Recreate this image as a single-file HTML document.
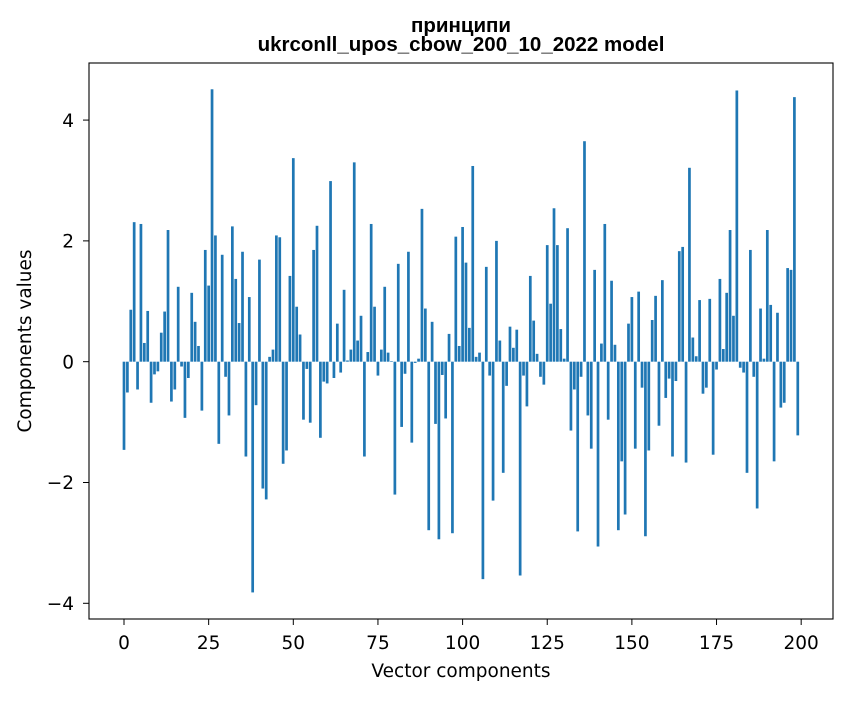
<!DOCTYPE html>
<html><head><meta charset="utf-8"><style>
body{margin:0;background:#fff;}
svg text{font-family:"DejaVu Sans","Liberation Sans",sans-serif;fill:#000;}
svg text.title{font-family:"Liberation Sans","DejaVu Sans",sans-serif;}
</style></head><body>
<svg id="chart" width="847" height="696" xmlns="http://www.w3.org/2000/svg">
<rect width="847" height="696" fill="#fff"/>
<text class="title" x="461" y="32" text-anchor="middle" font-size="20.5" font-weight="bold">принципи</text>
<text class="title" x="461" y="51" text-anchor="middle" font-size="20.5" font-weight="bold">ukrconll_upos_cbow_200_10_2022 model</text>
<g id="bars"></g>
<g id="xticks"></g>
<g id="yticks"></g>
<rect x="89" y="63" width="744" height="556" fill="none" stroke="#000" stroke-width="1.1"/>
<text x="461" y="677" text-anchor="middle" font-size="18.5">Vector components</text>
<text transform="translate(31,341) rotate(-90)" text-anchor="middle" font-size="18.5">Components values</text>
</svg>
<script>
const values = [-1.46,-0.51,0.86,2.31,-0.46,2.28,0.31,0.84,-0.68,-0.21,
-0.16,0.48,0.83,2.18,-0.66,-0.46,1.24,-0.08,-0.93,-0.27,
1.14,0.66,0.26,-0.81,1.85,1.26,4.51,2.09,-1.36,1.77,
-0.25,-0.89,2.24,1.37,0.64,1.82,-1.57,1.07,-3.82,-0.72,
1.69,-2.10,-2.28,0.08,0.20,2.09,2.06,-1.69,-1.47,1.42,
3.37,0.91,0.45,-0.96,-0.12,-1.01,1.85,2.25,-1.26,-0.33,
-0.36,2.99,-0.27,0.63,-0.18,1.19,0.02,0.20,3.30,0.35,
0.76,-1.57,0.16,2.28,0.91,-0.23,0.20,1.24,0.15,0.01,
-2.20,1.62,-1.08,-0.20,1.82,-1.34,-0.02,0.05,2.53,0.88,
-2.79,0.66,-1.03,-2.94,-0.22,-0.94,0.46,-2.84,2.07,0.26,
2.23,1.64,0.56,3.24,0.08,0.15,-3.60,1.57,-0.23,-2.30,
2.00,0.35,-1.84,-0.40,0.58,0.23,0.53,-3.54,-0.23,-0.74,
1.42,0.68,0.13,-0.25,-0.38,1.93,0.96,2.54,1.93,0.54,
0.05,2.21,-1.14,-0.46,-2.81,-0.25,3.65,-0.89,-1.44,1.52,
-3.06,0.30,2.28,-0.96,1.34,0.28,-2.79,-1.65,-2.53,0.63,
1.07,-1.44,1.16,-0.43,-2.89,-1.47,0.69,1.09,-1.06,1.35,
-0.60,-0.28,-1.57,-0.32,1.83,1.90,-1.67,3.21,0.40,0.09,
1.02,-0.53,-0.43,1.04,-1.54,-0.13,1.37,0.21,1.14,2.18,
0.76,4.49,-0.10,-0.18,-1.84,1.85,-0.25,-2.43,0.88,0.05,
2.18,0.94,-1.65,0.81,-0.76,-0.68,1.55,1.52,4.38,-1.22];
const xTicks = [0,25,50,75,100,125,150,175,200];
const yTicks = [-4,-2,0,2,4];
const yTickLabels = ["\u22124","\u22122","0","2","4"];

const X0=89,X1=833,Y0=63,Y1=619;
const xMin=-10.34,xMax=209.4,yMin=-4.26,yMax=4.945;
function xs(v){return X0+(v-xMin)/(xMax-xMin)*(X1-X0);}
function ys(v){return Y1-(v-yMin)/(yMax-yMin)*(Y1-Y0);}
const NS="http://www.w3.org/2000/svg";
const bars=document.getElementById('bars');
values.forEach((v,i)=>{
  const r=document.createElementNS(NS,'rect');
  const x=xs(i-0.4), w=xs(i+0.4)-x;
  const y=Math.min(ys(v),ys(0)), h=Math.abs(ys(v)-ys(0));
  r.setAttribute('x',x);r.setAttribute('y',y);r.setAttribute('width',w);r.setAttribute('height',h);
  r.setAttribute('fill','#1f77b4');
  
  
  bars.appendChild(r);
});
const xg=document.getElementById('xticks');
xTicks.forEach(t=>{
  const x=xs(t);
  const l=document.createElementNS(NS,'line');
  l.setAttribute('x1',x);l.setAttribute('x2',x);l.setAttribute('y1',Y1);l.setAttribute('y2',Y1+6);
  l.setAttribute('stroke','#000');
  
  
  xg.appendChild(l);
  const tx=document.createElementNS(NS,'text');
  tx.setAttribute('x',x);tx.setAttribute('y',649);tx.setAttribute('text-anchor','middle');tx.setAttribute('font-size','18.5');
  tx.textContent=t;
  
  
  xg.appendChild(tx);
});
const yg=document.getElementById('yticks');
yTicks.forEach((t,k)=>{
  const y=ys(t);
  const l=document.createElementNS(NS,'line');
  l.setAttribute('x1',X0-6);l.setAttribute('x2',X0);l.setAttribute('y1',y);l.setAttribute('y2',y);
  l.setAttribute('stroke','#000');
  
  
  yg.appendChild(l);
  const tx=document.createElementNS(NS,'text');
  tx.setAttribute('x',74);tx.setAttribute('y',y+6.7);tx.setAttribute('text-anchor','end');tx.setAttribute('font-size','18.5');
  tx.textContent=yTickLabels[k];
  
  
  yg.appendChild(tx);
});
</script>
</body></html>
